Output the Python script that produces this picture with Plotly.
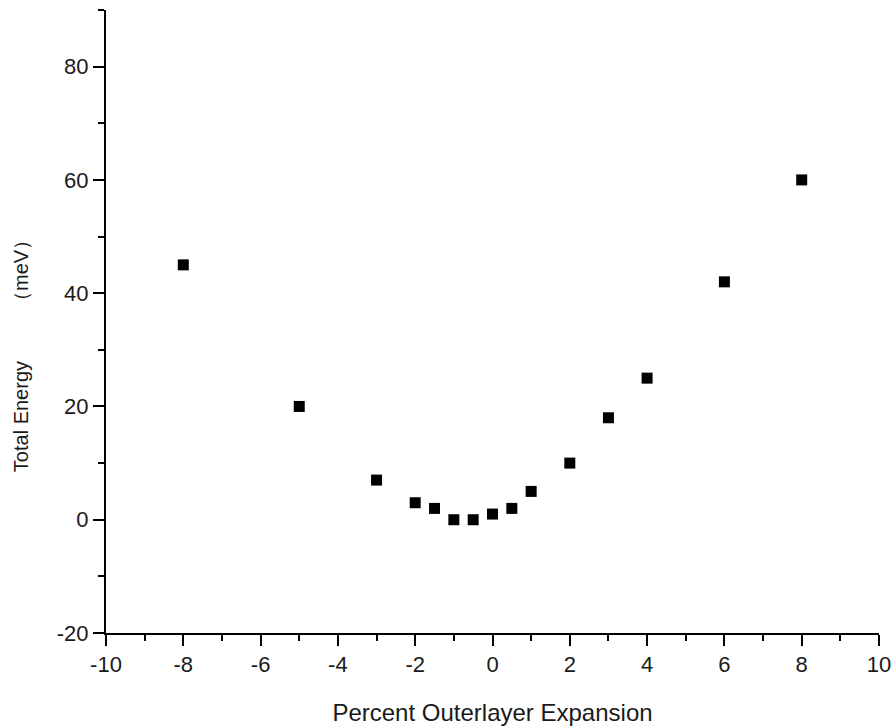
import plotly.graph_objects as go

x_vals = [-8, -5, -3, -2, -1.5, -1, -0.5, 0, 0.5, 1, 2, 3, 4, 6, 8]
y_vals = [45, 20, 7, 3, 2, 0, 0, 1, 2, 5, 10, 18, 25, 42, 60]

x_ticks = [-10, -8, -6, -4, -2, 0, 2, 4, 6, 8, 10]
y_ticks = [-20, 0, 20, 40, 60, 80]

x_title = "Percent Outerlayer Expansion"
y_title = "Total Energy\u2003\u2003\u2002（meV）"

font_family = "Liberation Sans, Arial, sans-serif"
text_color = "#1a1a1a"

fig = go.Figure()
fig.add_trace(go.Scatter(
    x=x_vals, y=y_vals, mode="markers",
    marker=dict(symbol="square", size=11, color="black", line=dict(width=0)),
    showlegend=False,
))

axis_common = dict(
    showgrid=False, zeroline=False, showline=True, linecolor="black", linewidth=2,
    ticks="outside", tickcolor="black", tickwidth=2, ticklen=11,
    tickfont=dict(family=font_family, size=22, color=text_color),
    mirror=False, tickmode="array", automargin=False,
)

fig.update_layout(
    width=895, height=728,
    margin=dict(l=106, r=16, t=10, b=95),
    plot_bgcolor="white", paper_bgcolor="white",
    font=dict(family=font_family, color=text_color),
    xaxis=dict(range=[-10, 10],
               tickvals=x_ticks, ticktext=[str(v) for v in x_ticks],
               minor=dict(tickmode="linear", tick0=0, dtick=1, ticks="outside", ticklen=6,
                          tickcolor="black", tickwidth=2),
               title=dict(text=x_title, font=dict(size=24, family=font_family, color=text_color),
                          standoff=28),
               **axis_common),
    yaxis=dict(range=[-20, 90],
               tickvals=y_ticks, ticktext=[str(v) for v in y_ticks],
               minor=dict(tickmode="linear", tick0=0, dtick=10, ticks="outside", ticklen=6,
                          tickcolor="black", tickwidth=2),
               **axis_common),
    annotations=[dict(
        text=y_title, textangle=-90, showarrow=False,
        xref="paper", yref="paper", x=-0.109, y=0.452,
        xanchor="center", yanchor="middle",
        font=dict(size=20, family=font_family, color=text_color),
    )],
)

fig.write_html("out.html")
